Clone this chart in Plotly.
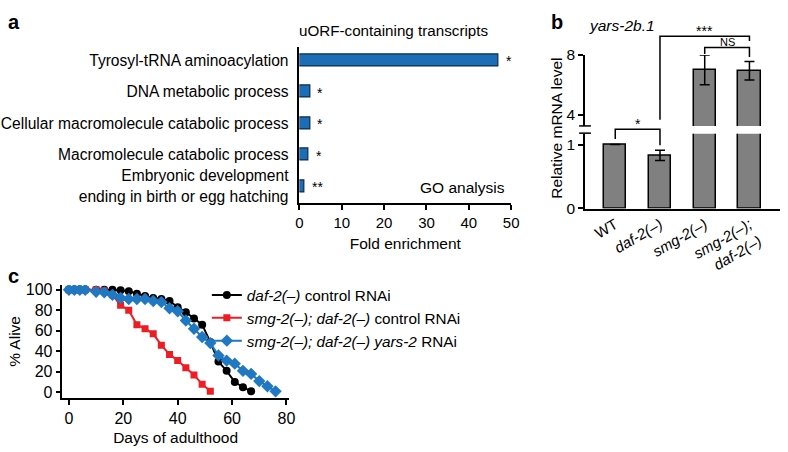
import plotly.graph_objects as go

W, H = 788, 452

# ---------------- data ----------------
# Panel a: GO analysis of uORF-containing transcripts
go_terms = [
    "Tyrosyl-tRNA aminoacylation",
    "DNA metabolic process",
    "Cellular macromolecule catabolic process",
    "Macromolecule catabolic process",
    "Embryonic development<br>ending in birth or egg hatching",
]
fold_enrichment = [47.1, 2.6, 2.5, 2.2, 1.2]
go_significance = ["*", "*", "*", "*", "**"]

# Panel b: yars-2b.1 relative mRNA level
strains = ["WT", "<i>daf-2(–)</i>", "<i>smg-2(–)</i>", "<i>smg-2(–);<br>daf-2(–)</i>"]
mrna_level = [1.0, 0.83, 7.0, 6.94]
mrna_err = [0.0, 0.08, 1.0, 0.62]

# Panel c: lifespan
days_daf2 = [0, 2, 4, 6, 10, 13, 16, 19, 22, 25, 28, 31, 34, 37, 40, 43, 46, 49, 52, 55, 58, 61, 64, 67]
alive_daf2 = [100, 100, 100, 100, 100, 100, 100, 99.5, 98.5, 96, 94, 92, 91, 89, 83, 78, 72, 66, 49, 30, 21, 10, 5, 1]
days_smg2_daf2 = [0, 2, 4, 6, 10, 13, 16, 19, 22, 25, 28, 31, 34, 37, 40, 43, 46, 49, 52]
alive_smg2_daf2 = [100, 100, 100, 100, 100, 99, 95, 85, 80, 66, 62, 57, 46, 37, 31, 24, 17, 8, 1]
days_yars2 = [0, 2, 4, 6, 10, 13, 16, 19, 22, 25, 28, 31, 34, 37, 40, 43, 46, 49, 52, 55, 58, 61, 64, 67, 70, 73, 76]
alive_yars2 = [100, 100, 100, 100, 98, 97.5, 95, 92, 91, 91, 91, 89, 88, 82, 79, 70, 62, 54, 48, 36, 31, 28, 21, 18, 11, 6, 1]
survival_names = [
    "<i>daf-2(–)</i> control RNAi",
    "<i>smg-2(–); daf-2(–)</i> control RNAi",
    "<i>smg-2(–); daf-2(–) yars-2</i> RNAi",
]

# ---------------- helpers (pixel -> paper) ----------------
def fx(px):
    return px / W

def fy(py):
    return 1 - py / H

FONT = "Liberation Sans, Arial, Helvetica, sans-serif"
BLUE_BAR = "#1b6db6"
GRAY = "#808080"
RED = "#ee1c25"
BLUE = "#1f78c1"

fig = go.Figure()

# Panel a bars
fig.add_trace(go.Bar(
    x=fold_enrichment, y=list(range(len(go_terms))), orientation="h",
    marker=dict(color=BLUE_BAR, line=dict(color="#0b2a4a", width=1.2)),
    width=0.38, xaxis="x", yaxis="y", showlegend=False,
))

# Panel b: lower and upper parts of the broken axis
for xa, ya in (("x2", "y2"), ("x3", "y3")):
    fig.add_trace(go.Bar(
        x=list(range(len(strains))), y=mrna_level,
        marker=dict(color=GRAY, line=dict(color="black", width=1.5)),
        width=0.5,
        error_y=dict(type="data", array=mrna_err, color="black", thickness=1.5, width=5),
        xaxis=xa, yaxis=ya, showlegend=False,
    ))

# Panel c survival curves
fig.add_trace(go.Scatter(
    x=days_daf2, y=alive_daf2, mode="lines+markers", name=survival_names[0],
    line=dict(color="black", width=2), marker=dict(symbol="circle", size=8, color="black"),
    xaxis="x4", yaxis="y4",
))
fig.add_trace(go.Scatter(
    x=days_smg2_daf2, y=alive_smg2_daf2, mode="lines+markers", name=survival_names[1],
    line=dict(color=RED, width=2), marker=dict(symbol="square", size=7, color=RED),
    xaxis="x4", yaxis="y4",
))
fig.add_trace(go.Scatter(
    x=days_yars2, y=alive_yars2, mode="lines+markers", name=survival_names[2],
    line=dict(color=BLUE, width=2), marker=dict(symbol="diamond", size=9.5, color=BLUE),
    xaxis="x4", yaxis="y4",
))

axis_common = dict(showline=True, linecolor="black", linewidth=1.5, showgrid=False,
                   zeroline=False, tickcolor="black", tickwidth=1.5,
                   tickfont=dict(family=FONT, size=15, color="black"))

def txt(x, y, text, size=15, xanchor="center", **kw):
    d = dict(x=fx(x), y=fy(y), xref="paper", yref="paper", text=text, showarrow=False,
             xanchor=xanchor, yanchor="middle", font=dict(family=FONT, size=size, color="black"))
    d.update(kw)
    return d

annotations = []
for i, (v, s) in enumerate(zip(fold_enrichment, go_significance)):
    annotations.append(dict(x=v, y=i, xref="x", yref="y", text=s, showarrow=False,
                            xanchor="left", yanchor="middle", xshift=5, yshift=-1,
                            font=dict(family=FONT, size=14, color="black")))

annotations += [
    txt(396, 22, "uORF-containing transcripts", 15.2),
    txt(511, 185, "GO analysis", 15.5, xanchor="right"),
    txt(2, 13, "<b>a</b>", 20, xanchor="left"),
    txt(553, 13, "<b>b</b>", 20, xanchor="left"),
    txt(2, 277, "<b>c</b>", 20, xanchor="left"),
    txt(592, 17, "<i>yars-2b.1</i>", 15.5, xanchor="left"),
    txt(561, 124, "Relative mRNA level", 15.5, textangle=-90),
    txt(10, 345, "% Alive", 15.5, textangle=-90),
    dict(x=0.5, y=fy(119), xref="x2", yref="paper", text="*", showarrow=False,
         yanchor="middle", font=dict(family=FONT, size=14, color="black")),
    dict(x=2.0, y=fy(23), xref="x2", yref="paper", text="***", showarrow=False,
         yanchor="middle", font=dict(family=FONT, size=14, color="black")),
    dict(x=2.5, y=fy(34), xref="x2", yref="paper", text="NS", showarrow=False,
         yanchor="middle", font=dict(family=FONT, size=11, color="black")),
]

def bracket(xa, xb, ytop, ya, yb):
    return dict(type="path", xref="x2", yref="paper",
                path=f"M {xa},{fy(ya)} L {xa},{fy(ytop)} L {xb},{fy(ytop)} L {xb},{fy(yb)}",
                line=dict(color="black", width=1.5))

shapes = [
    bracket(0, 1, 125, 135, 141.7),
    bracket(1, 3, 28.3, 115, 33.3),
    bracket(2, 3, 40, 46.7, 50),
    # axis break marks
    dict(type="line", xref="paper", yref="paper", x0=fx(584), x1=fx(596), y0=fy(121.5), y1=fy(121.5),
         line=dict(color="black", width=1.5)),
    dict(type="line", xref="paper", yref="paper", x0=fx(584), x1=fx(596), y0=fy(129), y1=fy(129),
         line=dict(color="black", width=1.5)),
]

fig.update_layout(
    width=W, height=H, autosize=False,
    margin=dict(l=0, r=0, t=0, b=0),
    paper_bgcolor="white", plot_bgcolor="white",
    font=dict(family=FONT, size=15, color="black"),
    bargap=0,
    xaxis=dict(axis_common, domain=[fx(300), fx(515)], range=[0, 50], anchor="y",
               ticks="outside", ticklen=5, tickvals=[0, 10, 20, 30, 40, 50],
               title=dict(text="Fold enrichment", font=dict(family=FONT, size=15.5), standoff=8)),
    yaxis=dict(axis_common, domain=[fy(202), fy(39)], range=[4.55, -0.43], anchor="x",
               tickvals=list(range(len(go_terms))), ticktext=go_terms, ticks="",
               ticklabelstandoff=6, tickfont=dict(family=FONT, size=15.6, color="black")),
    xaxis2=dict(axis_common, domain=[fx(590), 1.0], range=[-0.676, 3.683], anchor="y2",
                tickvals=list(range(len(strains))), ticktext=strains, ticks="", tickangle=-30,
                tickfont=dict(family=FONT, size=15, color="black")),
    yaxis2=dict(axis_common, domain=[fy(207.3), fy(129.5)], range=[0, 1.17], anchor="x2",
                tickvals=[0, 1], ticks="outside", ticklen=5,
                tickfont=dict(family=FONT, size=15.5, color="black")),
    xaxis3=dict(domain=[fx(590), 1.0], range=[-0.676, 3.683], anchor="y3", visible=False),
    yaxis3=dict(axis_common, domain=[fy(121.5), fy(47.7)], range=[3.24, 8], anchor="x3",
                tickvals=[4, 8], ticks="outside", ticklen=5,
                tickfont=dict(family=FONT, size=15.5, color="black")),
    xaxis4=dict(axis_common, domain=[fx(59.3), fx(289.3)], range=[-2.4, 80.9], anchor="y4",
                tickvals=[0, 20, 40, 60, 80], ticks="outside", ticklen=5,
                tickfont=dict(family=FONT, size=16, color="black"),
                title=dict(text="Days of adulthood", font=dict(family=FONT, size=15.5), standoff=6)),
    yaxis4=dict(axis_common, domain=[fy(404), fy(286.7)], range=[-5.3, 104.7], anchor="x4",
                tickvals=[0, 20, 40, 60, 80, 100], ticks="outside", ticklen=5,
                tickfont=dict(family=FONT, size=16, color="black")),
    legend=dict(x=fx(206), y=fy(280), xanchor="left", yanchor="top",
                bgcolor="rgba(0,0,0,0)", font=dict(family=FONT, size=15.3, color="black"),
                tracegroupgap=0),
    annotations=annotations,
    shapes=shapes,
)

fig.write_html("out.html", config={"displayModeBar": False},
               post_script="document.body.style.margin='0';document.body.style.overflow='hidden';")
